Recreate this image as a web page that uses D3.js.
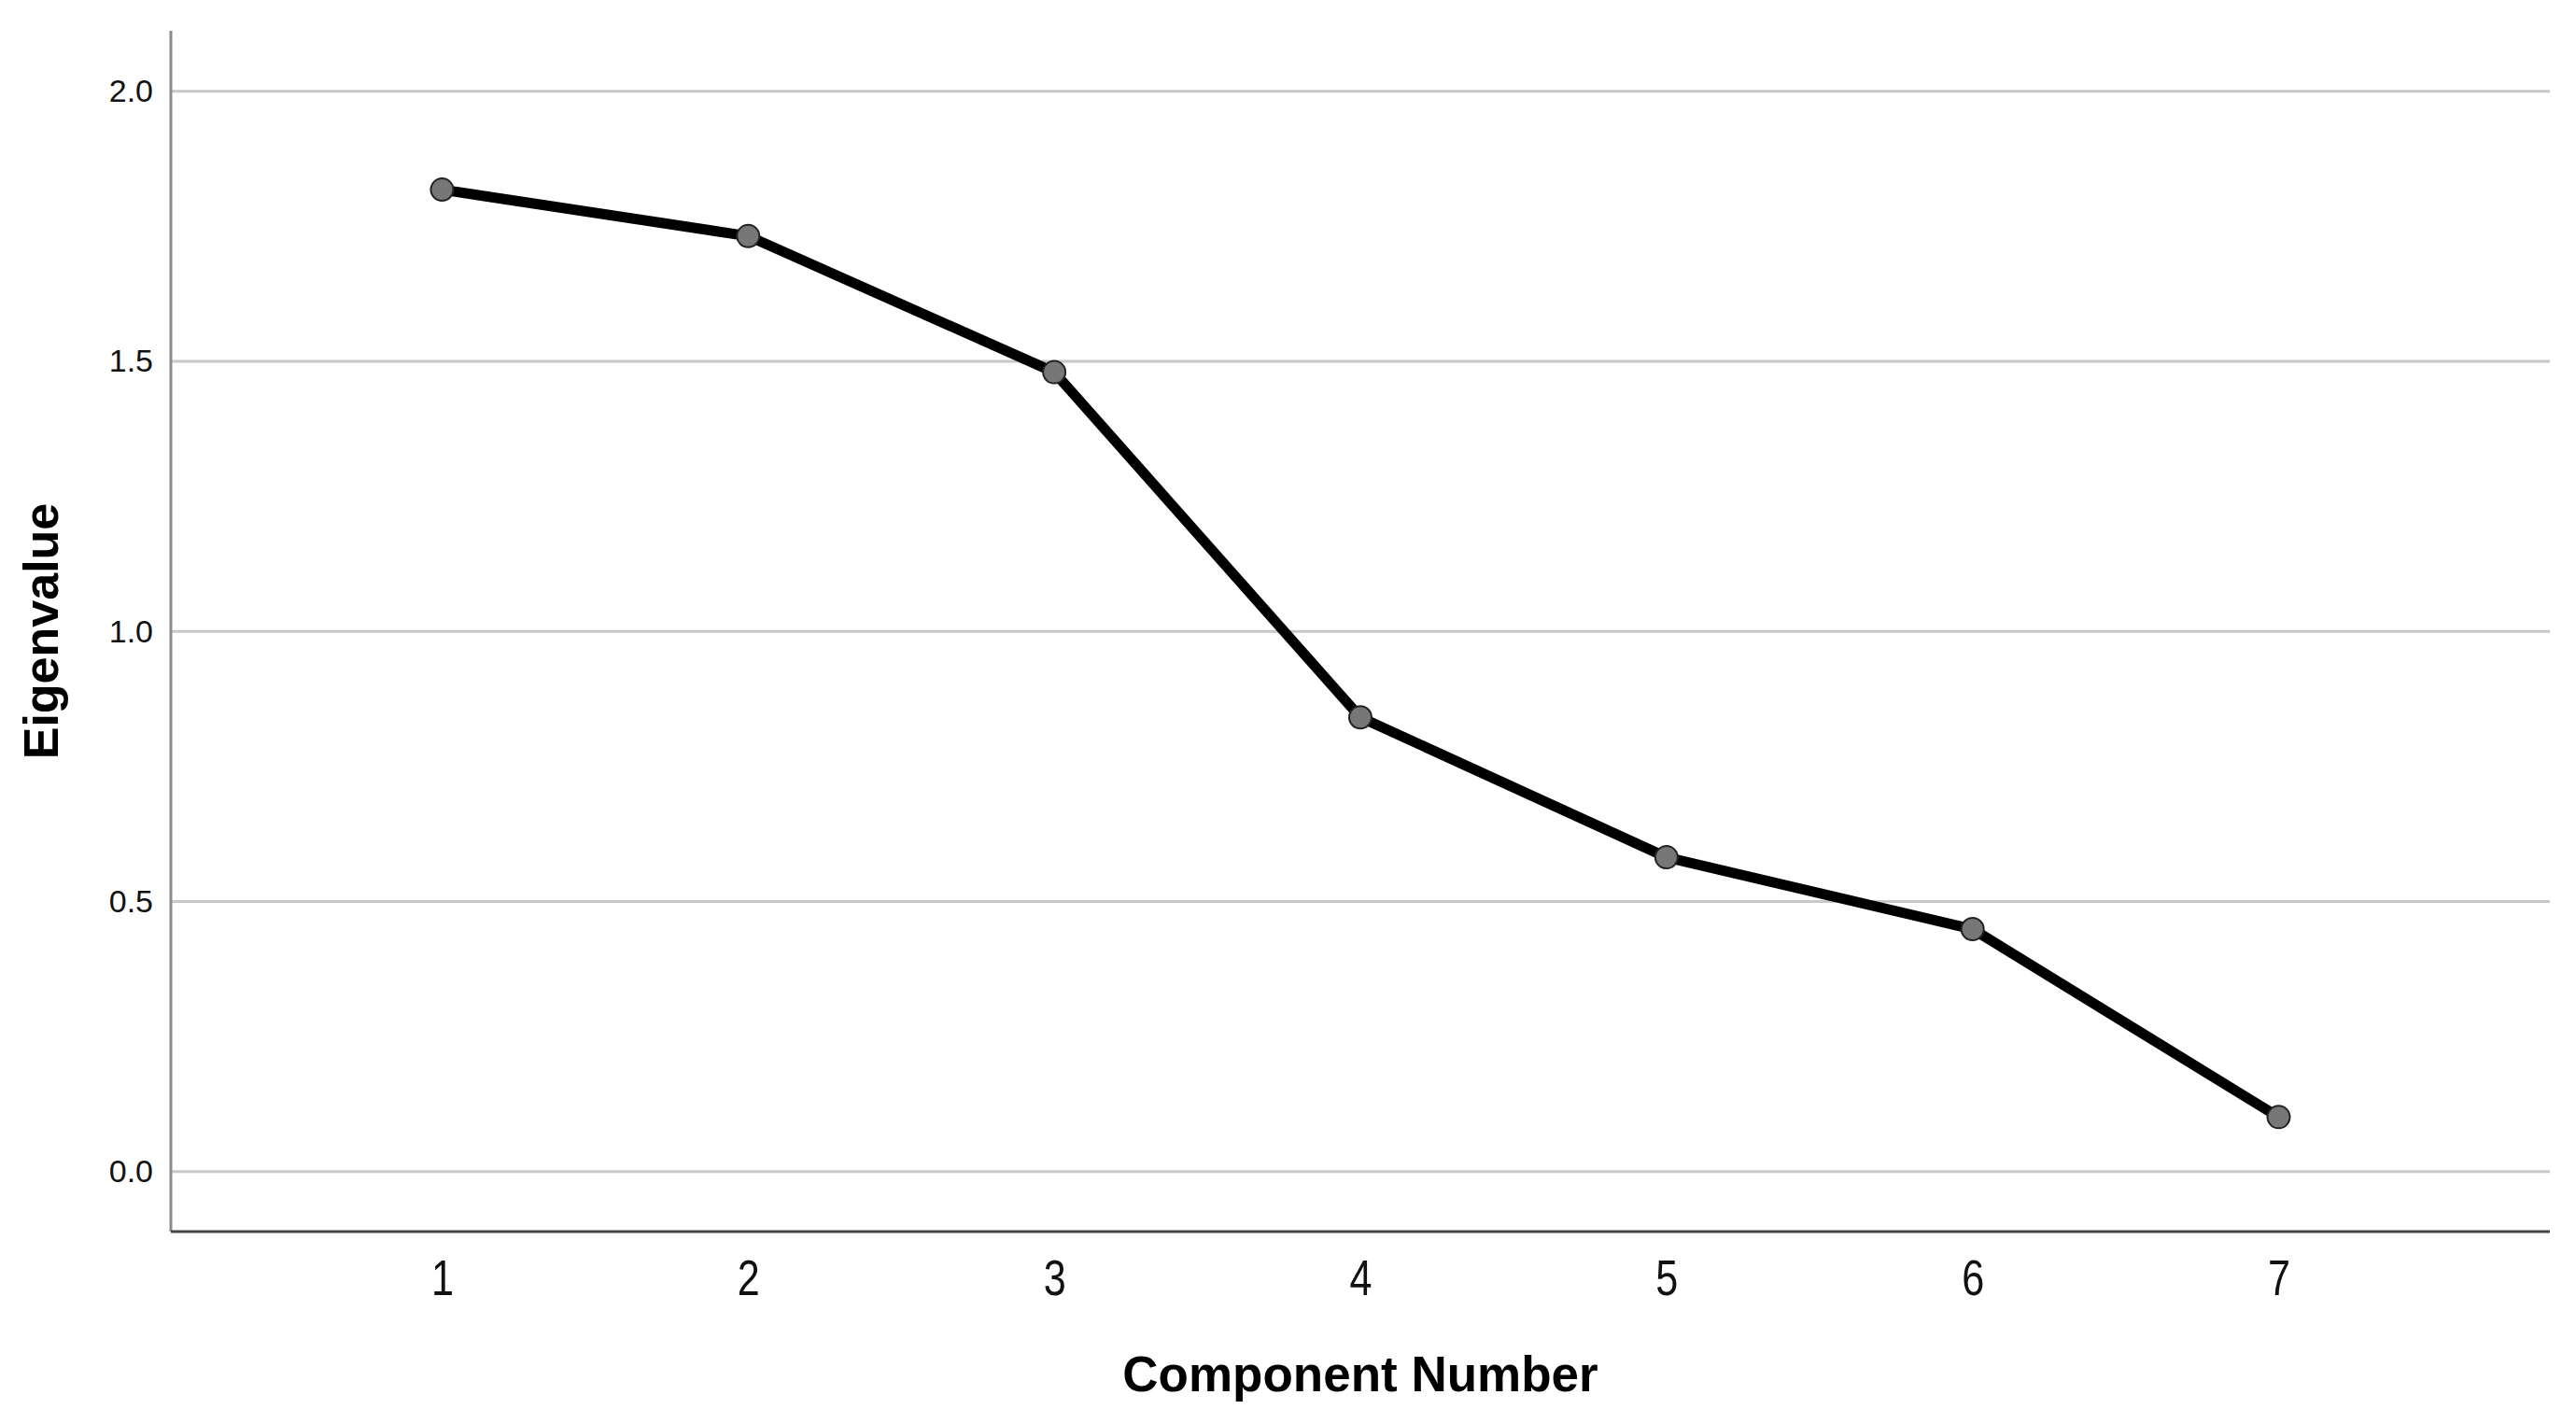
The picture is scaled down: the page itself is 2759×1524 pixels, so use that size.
<!DOCTYPE html>
<html>
<head>
<meta charset="utf-8">
<script src="https://cdn.jsdelivr.net/npm/d3@7"></script>
<style>
  html, body { margin: 0; padding: 0; background: #fff; }
  svg { display: block; font-family: Arial, "Liberation Sans", sans-serif; }
</style>
</head>
<body>
<div id="chart"></div>
<script>
// scree plot data
const components = [1, 2, 3, 4, 5, 6, 7];
const eigenvalues = [1.818, 1.732, 1.480, 0.841, 0.582, 0.449, 0.101];
const yTicks = [0.0, 0.5, 1.0, 1.5, 2.0];

const width = 2759, height = 1524;
const plotLeft = 183, plotRight = 2731, plotTop = 33, plotBottom = 1319;

const svg = d3.select("#chart")
  .append("svg")
  .attr("width", width)
  .attr("height", height);

const x = d3.scalePoint()
  .domain(components)
  .range([plotLeft, plotRight])
  .padding(0.886);

const y = d3.scaleLinear()
  .domain([-0.111, 2.112])
  .range([plotBottom, plotTop]);

// horizontal grid lines
svg.append("g")
  .selectAll("line")
  .data(yTicks)
  .enter()
  .append("line")
  .attr("x1", plotLeft)
  .attr("x2", plotRight)
  .attr("y1", d => y(d))
  .attr("y2", d => y(d))
  .attr("stroke", "#c8c8c8")
  .attr("stroke-width", 3);

// y axis
const yAxis = svg.append("g")
  .attr("transform", `translate(${plotLeft},0)`)
  .call(d3.axisLeft(y).tickValues(yTicks).tickFormat(d3.format(".1f")).tickSize(0).tickPadding(19));
yAxis.select(".domain").remove();
yAxis.selectAll("text")
  .attr("font-size", 34)
  .attr("font-family", "Arial, 'Liberation Sans', sans-serif")
  .attr("fill", "#111");
svg.append("line")
  .attr("x1", plotLeft).attr("x2", plotLeft)
  .attr("y1", plotTop).attr("y2", plotBottom)
  .attr("stroke", "#8a8a8a")
  .attr("stroke-width", 3);

// x axis
const xAxis = svg.append("g")
  .attr("transform", `translate(0,${plotBottom})`)
  .call(d3.axisBottom(x).tickSize(0).tickPadding(30));
xAxis.select(".domain").remove();
xAxis.selectAll("text")
  .attr("font-size", 54)
  .attr("font-family", "Arial, 'Liberation Sans', sans-serif")
  .attr("fill", "#111")
  .attr("transform", "scale(0.8,1)");  // narrower digits like the original
svg.append("line")
  .attr("x1", plotLeft).attr("x2", plotRight)
  .attr("y1", plotBottom).attr("y2", plotBottom)
  .attr("stroke", "#444")
  .attr("stroke-width", 3);

// line
const line = d3.line()
  .x((d, i) => x(components[i]))
  .y(d => y(d));

svg.append("path")
  .datum(eigenvalues)
  .attr("d", line)
  .attr("fill", "none")
  .attr("stroke", "#000")
  .attr("stroke-width", 11)
  .attr("stroke-linejoin", "round");

svg.append("g")
  .selectAll("circle")
  .data(eigenvalues)
  .enter()
  .append("circle")
  .attr("cx", (d, i) => x(components[i]))
  .attr("cy", d => y(d))
  .attr("r", 12)
  .attr("fill", "#777")
  .attr("stroke", "#222")
  .attr("stroke-width", 2);

// axis titles
svg.append("text")
  .attr("x", (plotLeft + plotRight) / 2)
  .attr("y", 1490)
  .attr("text-anchor", "middle")
  .attr("font-size", 53)
  .attr("font-weight", "bold")
  .attr("fill", "#000")
  .text("Component Number");

svg.append("text")
  .attr("transform", `translate(62,${(plotTop + plotBottom) / 2}) rotate(-90)`)
  .attr("text-anchor", "middle")
  .attr("font-size", 52)
  .attr("font-weight", "bold")
  .attr("fill", "#000")
  .text("Eigenvalue");
</script>
</body>
</html>
